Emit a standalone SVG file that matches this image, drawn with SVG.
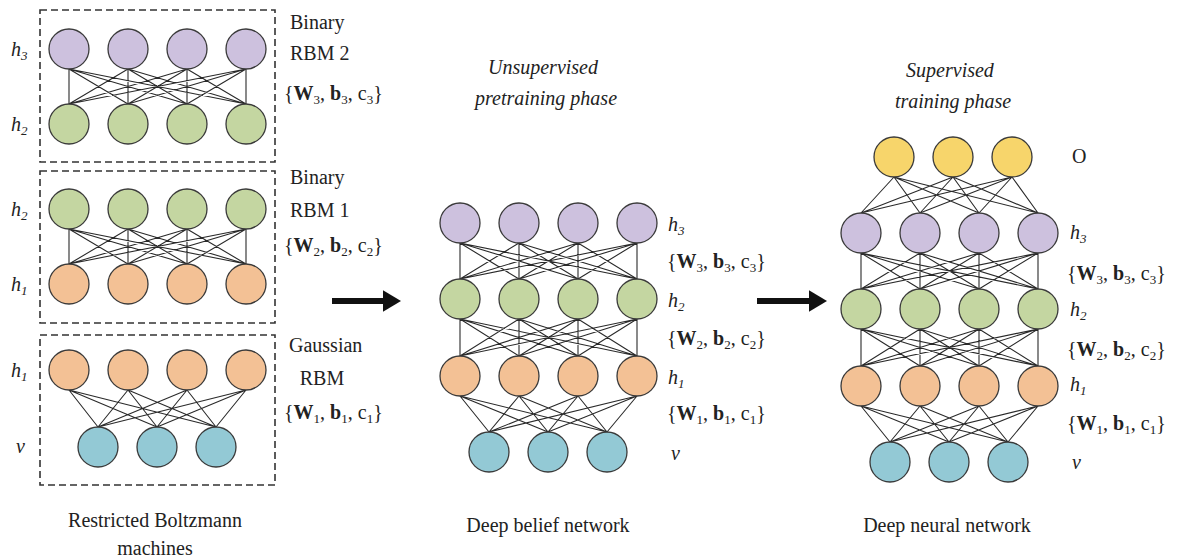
<svg xmlns="http://www.w3.org/2000/svg" width="1177" height="560" viewBox="0 0 1177 560">
<defs>
<style>
.t{font-family:"Liberation Serif",serif;font-size:20px;fill:#222}
.i{font-style:italic}
.b{font-weight:bold}
.m{text-anchor:middle}
.s{font-size:13px}
.e{fill:none;stroke:#2a2a2a;stroke-width:1.1}
.box{fill:none;stroke:#333;stroke-width:1.6;stroke-dasharray:7,4}
.n{stroke:#3a3a3a;stroke-width:1.3}
.p{fill:#cdc1de}.g{fill:#c4d6a1}.o{fill:#f3c195}.c{fill:#93c9d5}.y{fill:#f7d56b}
.arr{stroke:#111;stroke-width:6;fill:none}
</style>
<marker id="ah" markerWidth="4" markerHeight="4" refX="0.5" refY="2" orient="auto" markerUnits="strokeWidth"><path d="M0,0.2L3,2L0,3.8Z" fill="#111"/></marker>
</defs>
<rect width="1177" height="560" fill="#fff"/>

<g id="connectors">
<path class="e" d="M69 69L69 104M69 69L128 104M69 69L187 104M69 69L246 104M128 69L69 104M128 69L128 104M128 69L187 104M128 69L246 104M187 69L69 104M187 69L128 104M187 69L187 104M187 69L246 104M246 69L69 104M246 69L128 104M246 69L187 104M246 69L246 104"/>
<path class="e" d="M69 229L69 264M69 229L128 264M69 229L187 264M69 229L246 264M128 229L69 264M128 229L128 264M128 229L187 264M128 229L246 264M187 229L69 264M187 229L128 264M187 229L187 264M187 229L246 264M246 229L69 264M246 229L128 264M246 229L187 264M246 229L246 264"/>
<path class="e" d="M69 390L98 427M69 390L157 427M69 390L216 427M128 390L98 427M128 390L157 427M128 390L216 427M187 390L98 427M187 390L157 427M187 390L216 427M246 390L98 427M246 390L157 427M246 390L216 427"/>
<path class="e" d="M460 243L460 279M460 243L519 279M460 243L578 279M460 243L637 279M519 243L460 279M519 243L519 279M519 243L578 279M519 243L637 279M578 243L460 279M578 243L519 279M578 243L578 279M578 243L637 279M637 243L460 279M637 243L519 279M637 243L578 279M637 243L637 279"/>
<path class="e" d="M460 319L460 356M460 319L519 356M460 319L578 356M460 319L637 356M519 319L460 356M519 319L519 356M519 319L578 356M519 319L637 356M578 319L460 356M578 319L519 356M578 319L578 356M578 319L637 356M637 319L460 356M637 319L519 356M637 319L578 356M637 319L637 356"/>
<path class="e" d="M460 396L489 432M460 396L548 432M460 396L607 432M519 396L489 432M519 396L548 432M519 396L607 432M578 396L489 432M578 396L548 432M578 396L607 432M637 396L489 432M637 396L548 432M637 396L607 432"/>
<path class="e" d="M894 177L861 213M894 177L920 213M894 177L979 213M894 177L1038 213M953 177L861 213M953 177L920 213M953 177L979 213M953 177L1038 213M1012 177L861 213M1012 177L920 213M1012 177L979 213M1012 177L1038 213"/>
<path class="e" d="M861 253L861 289M861 253L920 289M861 253L979 289M861 253L1038 289M920 253L861 289M920 253L920 289M920 253L979 289M920 253L1038 289M979 253L861 289M979 253L920 289M979 253L979 289M979 253L1038 289M1038 253L861 289M1038 253L920 289M1038 253L979 289M1038 253L1038 289"/>
<path class="e" d="M861 329L861 366M861 329L920 366M861 329L979 366M861 329L1038 366M920 329L861 366M920 329L920 366M920 329L979 366M920 329L1038 366M979 329L861 366M979 329L920 366M979 329L979 366M979 329L1038 366M1038 329L861 366M1038 329L920 366M1038 329L979 366M1038 329L1038 366"/>
<path class="e" d="M861 406L890 442M861 406L949 442M861 406L1008 442M920 406L890 442M920 406L949 442M920 406L1008 442M979 406L890 442M979 406L949 442M979 406L1008 442M1038 406L890 442M1038 406L949 442M1038 406L1008 442"/>
<path class="arr" d="M332 301L386 301" marker-end="url(#ah)"/>
<path class="arr" d="M757 301L812 301" marker-end="url(#ah)"/>
</g>

<g id="rbm2">
<rect class="box" x="40" y="10" width="235" height="152"/>
<circle class="n p" cx="69" cy="49" r="20"/><circle class="n p" cx="128" cy="49" r="20"/><circle class="n p" cx="187" cy="49" r="20"/><circle class="n p" cx="246" cy="49" r="20"/>
<circle class="n g" cx="69" cy="124" r="20"/><circle class="n g" cx="128" cy="124" r="20"/><circle class="n g" cx="187" cy="124" r="20"/><circle class="n g" cx="246" cy="124" r="20"/>
<text class="t i" x="11" y="56">h<tspan class="s" dy="4">3</tspan></text>
<text class="t i" x="11" y="131">h<tspan class="s" dy="4">2</tspan></text>
<text class="t" x="290" y="29">Binary</text>
<text class="t" x="290" y="60">RBM 2</text>
<text class="t" x="284" y="100">{<tspan class="b">W</tspan><tspan class="s" dy="4">3</tspan><tspan dy="-4">, </tspan><tspan class="b">b</tspan><tspan class="s" dy="4">3</tspan><tspan dy="-4">, c</tspan><tspan class="s" dy="4">3</tspan><tspan dy="-4">}</tspan></text>
</g>

<g id="rbm1">
<rect class="box" x="40" y="171" width="235" height="152"/>
<circle class="n g" cx="69" cy="209" r="20"/><circle class="n g" cx="128" cy="209" r="20"/><circle class="n g" cx="187" cy="209" r="20"/><circle class="n g" cx="246" cy="209" r="20"/>
<circle class="n o" cx="69" cy="284" r="20"/><circle class="n o" cx="128" cy="284" r="20"/><circle class="n o" cx="187" cy="284" r="20"/><circle class="n o" cx="246" cy="284" r="20"/>
<text class="t i" x="11" y="216">h<tspan class="s" dy="4">2</tspan></text>
<text class="t i" x="11" y="291">h<tspan class="s" dy="4">1</tspan></text>
<text class="t" x="290" y="184">Binary</text>
<text class="t" x="290" y="217">RBM 1</text>
<text class="t" x="284" y="252">{<tspan class="b">W</tspan><tspan class="s" dy="4">2</tspan><tspan dy="-4">, </tspan><tspan class="b">b</tspan><tspan class="s" dy="4">2</tspan><tspan dy="-4">, c</tspan><tspan class="s" dy="4">2</tspan><tspan dy="-4">}</tspan></text>
</g>

<g id="grbm">
<rect class="box" x="40" y="335" width="235" height="150"/>
<circle class="n o" cx="69" cy="370" r="20"/><circle class="n o" cx="128" cy="370" r="20"/><circle class="n o" cx="187" cy="370" r="20"/><circle class="n o" cx="246" cy="370" r="20"/>
<circle class="n c" cx="98" cy="447" r="20"/><circle class="n c" cx="157" cy="447" r="20"/><circle class="n c" cx="216" cy="447" r="20"/>
<text class="t i" x="11" y="377">h<tspan class="s" dy="4">1</tspan></text>
<text class="t i" x="16" y="453">v</text>
<text class="t" x="289" y="352">Gaussian</text>
<text class="t m" x="322" y="385">RBM</text>
<text class="t" x="284" y="419">{<tspan class="b">W</tspan><tspan class="s" dy="4">1</tspan><tspan dy="-4">, </tspan><tspan class="b">b</tspan><tspan class="s" dy="4">1</tspan><tspan dy="-4">, c</tspan><tspan class="s" dy="4">1</tspan><tspan dy="-4">}</tspan></text>
<text class="t m" x="155" y="527">Restricted Boltzmann</text>
<text class="t m" x="155" y="555">machines</text>
</g>

<g id="dbn">
<circle class="n p" cx="460" cy="223" r="20"/><circle class="n p" cx="519" cy="223" r="20"/><circle class="n p" cx="578" cy="223" r="20"/><circle class="n p" cx="637" cy="223" r="20"/>
<circle class="n g" cx="460" cy="299" r="20"/><circle class="n g" cx="519" cy="299" r="20"/><circle class="n g" cx="578" cy="299" r="20"/><circle class="n g" cx="637" cy="299" r="20"/>
<circle class="n o" cx="460" cy="376" r="20"/><circle class="n o" cx="519" cy="376" r="20"/><circle class="n o" cx="578" cy="376" r="20"/><circle class="n o" cx="637" cy="376" r="20"/>
<circle class="n c" cx="489" cy="452" r="20"/><circle class="n c" cx="548" cy="452" r="20"/><circle class="n c" cx="607" cy="452" r="20"/>
<text class="t i" x="668" y="231">h<tspan class="s" dy="4">3</tspan></text>
<text class="t" x="667" y="268">{<tspan class="b">W</tspan><tspan class="s" dy="4">3</tspan><tspan dy="-4">, </tspan><tspan class="b">b</tspan><tspan class="s" dy="4">3</tspan><tspan dy="-4">, c</tspan><tspan class="s" dy="4">3</tspan><tspan dy="-4">}</tspan></text>
<text class="t i" x="668" y="307">h<tspan class="s" dy="4">2</tspan></text>
<text class="t" x="667" y="345">{<tspan class="b">W</tspan><tspan class="s" dy="4">2</tspan><tspan dy="-4">, </tspan><tspan class="b">b</tspan><tspan class="s" dy="4">2</tspan><tspan dy="-4">, c</tspan><tspan class="s" dy="4">2</tspan><tspan dy="-4">}</tspan></text>
<text class="t i" x="668" y="384">h<tspan class="s" dy="4">1</tspan></text>
<text class="t" x="667" y="420">{<tspan class="b">W</tspan><tspan class="s" dy="4">1</tspan><tspan dy="-4">, </tspan><tspan class="b">b</tspan><tspan class="s" dy="4">1</tspan><tspan dy="-4">, c</tspan><tspan class="s" dy="4">1</tspan><tspan dy="-4">}</tspan></text>
<text class="t i" x="671" y="460">v</text>
<text class="t i m" x="543" y="74">Unsupervised</text>
<text class="t i m" x="546" y="105">pretraining phase</text>
<text class="t m" x="548" y="532">Deep belief network</text>
</g>

<g id="dnn">
<circle class="n y" cx="894" cy="157" r="20"/><circle class="n y" cx="953" cy="157" r="20"/><circle class="n y" cx="1012" cy="157" r="20"/>
<circle class="n p" cx="861" cy="233" r="20"/><circle class="n p" cx="920" cy="233" r="20"/><circle class="n p" cx="979" cy="233" r="20"/><circle class="n p" cx="1038" cy="233" r="20"/>
<circle class="n g" cx="861" cy="309" r="20"/><circle class="n g" cx="920" cy="309" r="20"/><circle class="n g" cx="979" cy="309" r="20"/><circle class="n g" cx="1038" cy="309" r="20"/>
<circle class="n o" cx="861" cy="386" r="20"/><circle class="n o" cx="920" cy="386" r="20"/><circle class="n o" cx="979" cy="386" r="20"/><circle class="n o" cx="1038" cy="386" r="20"/>
<circle class="n c" cx="890" cy="462" r="20"/><circle class="n c" cx="949" cy="462" r="20"/><circle class="n c" cx="1008" cy="462" r="20"/>
<text class="t" x="1072" y="163">O</text>
<text class="t i" x="1070" y="239">h<tspan class="s" dy="4">3</tspan></text>
<text class="t" x="1067" y="280">{<tspan class="b">W</tspan><tspan class="s" dy="4">3</tspan><tspan dy="-4">, </tspan><tspan class="b">b</tspan><tspan class="s" dy="4">3</tspan><tspan dy="-4">, c</tspan><tspan class="s" dy="4">3</tspan><tspan dy="-4">}</tspan></text>
<text class="t i" x="1070" y="316">h<tspan class="s" dy="4">2</tspan></text>
<text class="t" x="1067" y="356">{<tspan class="b">W</tspan><tspan class="s" dy="4">2</tspan><tspan dy="-4">, </tspan><tspan class="b">b</tspan><tspan class="s" dy="4">2</tspan><tspan dy="-4">, c</tspan><tspan class="s" dy="4">2</tspan><tspan dy="-4">}</tspan></text>
<text class="t i" x="1070" y="391">h<tspan class="s" dy="4">1</tspan></text>
<text class="t" x="1067" y="430">{<tspan class="b">W</tspan><tspan class="s" dy="4">1</tspan><tspan dy="-4">, </tspan><tspan class="b">b</tspan><tspan class="s" dy="4">1</tspan><tspan dy="-4">, c</tspan><tspan class="s" dy="4">1</tspan><tspan dy="-4">}</tspan></text>
<text class="t i" x="1072" y="469">v</text>
<text class="t i m" x="950" y="77">Supervised</text>
<text class="t i m" x="953" y="108">training phase</text>
<text class="t m" x="947" y="532">Deep neural network</text>
</g>
</svg>
